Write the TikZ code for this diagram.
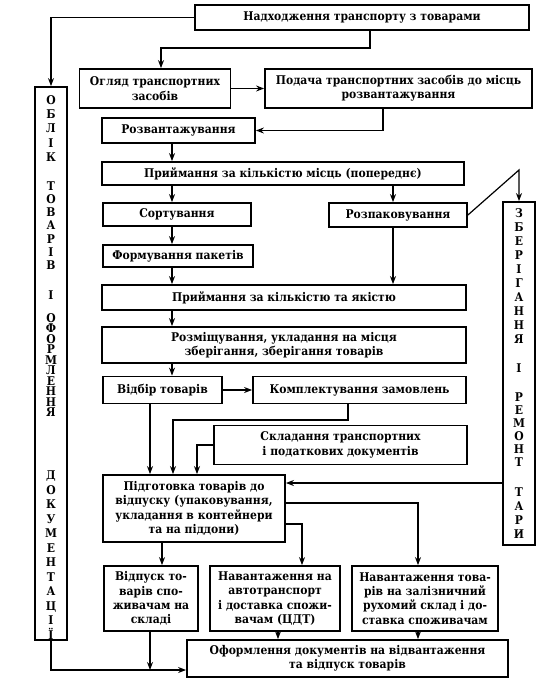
\documentclass[tikz,border=0pt]{standalone}
\usepackage{fontspec}
\setmainfont{DejaVu Serif}[FakeStretch=0.9]
\usetikzlibrary{arrows.meta, positioning}

\begin{document}
\begin{tikzpicture}[x=1pt, y=-1pt,
  box/.style={draw, line width=1.8pt, align=center, inner sep=1pt, font=\fontsize{12}{14.3}\selectfont\bfseries},
  arr/.style={-{Stealth[length=8pt, width=6pt]}, line width=1.2pt},
  letters/.style={align=center, inner sep=0pt, font=\fontsize{12}{#1}\selectfont\bfseries}]
  \useasboundingbox (0,0) rectangle (557,695);

  % side columns
  \node[box, minimum width=32pt, minimum height=553pt] (oblik) at (51,363.5) {};
  \node[letters=14.3] (oblik1) at (51,128.5) {О\\Б\\Л\\І\\К};
  \node[letters=13.2] (oblik2) at (51,225.5) {Т\\О\\В\\А\\Р\\І\\В};
  \node[letters=14] (oblik3) at (51,295) {І};
  \node[letters=10.5] (oblik4) at (51,365) {О\\Ф\\О\\Р\\М\\Л\\Е\\Н\\Н\\Я};
  \node[letters=14.5] (oblik5) at (51,555) {Д\\О\\К\\У\\М\\Е\\Н\\Т\\А\\Ц\\І\\Ї};

  \node[box, minimum width=32pt, minimum height=343pt] (zberig) at (519,373.5) {};
  \node[letters=14] (zberig1) at (519,276) {З\\Б\\Е\\Р\\І\\Г\\А\\Н\\Н\\Я};
  \node[letters=14] (zberig2) at (519,368) {І};
  \node[letters=13] (zberig3) at (519,429.5) {Р\\Е\\М\\О\\Н\\Т};
  \node[letters=14] (zberig4) at (519,513) {Т\\А\\Р\\И};

  % main boxes
  \node[box, minimum width=334pt, minimum height=25pt] (arrive) at (362,17.5) {Надходження транспорту з товарами};
  \node[box, minimum width=151pt, minimum height=39pt] (ohliad) at (155,88.5) {Огляд транспортних\\засобів};
  \node[box, minimum width=267pt, minimum height=39pt] (podacha) at (398.5,88.5) {Подача транспортних засобів до місць\\розвантажування};
  \node[box, minimum width=153pt, minimum height=25pt] (rozvant) at (178.5,130.5) {Розвантажування};
  \node[box, minimum width=362pt, minimum height=23pt] (pryim1) at (283,173.5) {Приймання за кількістю місць (попереднє)};
  \node[box, minimum width=148pt, minimum height=23pt] (sort) at (177,214.5) {Сортування};
  \node[box, minimum width=138pt, minimum height=24pt] (rozpak) at (398,215) {Розпаковування};
  \node[box, minimum width=150pt, minimum height=22pt] (formuv) at (178,256) {Формування пакетів};
  \node[box, minimum width=364pt, minimum height=25pt] (pryim2) at (284,297.5) {Приймання за кількістю та якістю};
  \node[box, minimum width=364pt, minimum height=36pt] (rozmish) at (284,345) {Розміщування, укладання на місця\\зберігання, зберігання товарів};
  \node[box, minimum width=119pt, minimum height=27pt] (vidbir) at (162.5,390) {Відбір товарів};
  \node[box, minimum width=213pt, minimum height=27pt] (kompl) at (359.5,390) {Комплектування замовлень};
  \node[box, minimum width=253pt, minimum height=39pt] (sklad) at (340.5,445) {Складання транспортних\\і податкових документів};
  \node[box, minimum width=182pt, minimum height=67pt] (pidhot) at (194,508.5) {Підготовка товарів до\\відпуску (упаковування,\\укладання в контейнери\\та на піддони)};
  \node[box, minimum width=94pt, minimum height=65pt] (vidpusk) at (151,598.5) {Відпуск то-\\варів спо-\\живачам на\\складі};
  \node[box, minimum width=130pt, minimum height=65pt] (avto) at (275,598.5) {Навантаження на\\автотранспорт\\і доставка спожи-\\вачам (ЦДТ)};
  \node[box, minimum width=146pt, minimum height=65pt] (zaliz) at (425,598.5) {Навантаження това-\\рів на залізничний\\рухомий склад і до-\\ставка споживачам};
  \node[box, minimum width=321pt, minimum height=37pt] (oform) at (347.5,658.5) {Оформлення документів на відвантаження\\та відпуск товарів};

  % helper points
  \coordinate (spine) at (172,0);
  \coordinate (rcol) at (393,0);
  \coordinate (topbend) at (370,48);
  \coordinate (podout) at (383,0);
  \coordinate (peak) at (519,170);
  \coordinate (c1) at (150,0);
  \coordinate (c2) at (173,0);
  \coordinate (c3) at (197,0);
  \coordinate (kout) at (348,420);
  \coordinate (ret) at (0,483);
  \coordinate (out1) at (418,503);
  \coordinate (out2) at (302,524);
  \coordinate (c4) at (162,0);
  \coordinate (c5) at (278,0);
  \coordinate (botline) at (150,670);

  % connectors
  \draw[arr] (arrive.west) -| (oblik.north);
  \draw[arr] (arrive.south -| topbend) -- (topbend) -| ([xshift=6pt]ohliad.north);
  \draw[arr] (ohliad) -- (podacha);
  \draw[arr] (podacha.south -| podout) |- (rozvant.east);
  \draw[arr] (rozvant.south -| spine) -- (pryim1.north -| spine);
  \draw[arr] (pryim1.south -| spine) -- (sort.north -| spine);
  \draw[arr] (pryim1.south -| rcol) -- (rozpak.north -| rcol);
  \draw[arr] (rozpak.east) -- (peak) -- (zberig.north);
  \draw[arr] (sort.south -| spine) -- (formuv.north -| spine);
  \draw[arr] (formuv.south -| spine) -- (pryim2.north -| spine);
  \draw[arr] (rozpak.south -| rcol) -- (pryim2.north -| rcol);
  \draw[arr] (pryim2.south -| spine) -- (rozmish.north -| spine);
  \draw[arr] (rozmish.south -| spine) -- (vidbir.north -| spine);
  \draw[arr] (vidbir) -- (kompl);
  \draw[arr] (vidbir.south -| c1) -- (pidhot.north -| c1);
  \draw[arr] (kompl.south -| kout) -- (kout) -| (pidhot.north -| c2);
  \draw[arr] (sklad.west) -| (pidhot.north -| c3);
  \draw[arr] (zberig.west |- ret) -- (pidhot.east |- ret);
  \draw[arr] (pidhot.east |- out1) -| (zaliz.north -| out1);
  \draw[arr] (pidhot.east |- out2) -| (avto.north -| out2);
  \draw[arr] (pidhot.south -| c4) -- (vidpusk.north -| c4);
  \draw[arr] (oblik.south) |- (oform.west |- botline);
  \draw[arr] (vidpusk.south -| botline) -- (botline);
  \draw[arr] (avto.south -| c5) -- (oform.north -| c5);
  \draw[arr] (zaliz.south -| out1) -- (oform.north -| out1);
\end{tikzpicture}
\end{document}
